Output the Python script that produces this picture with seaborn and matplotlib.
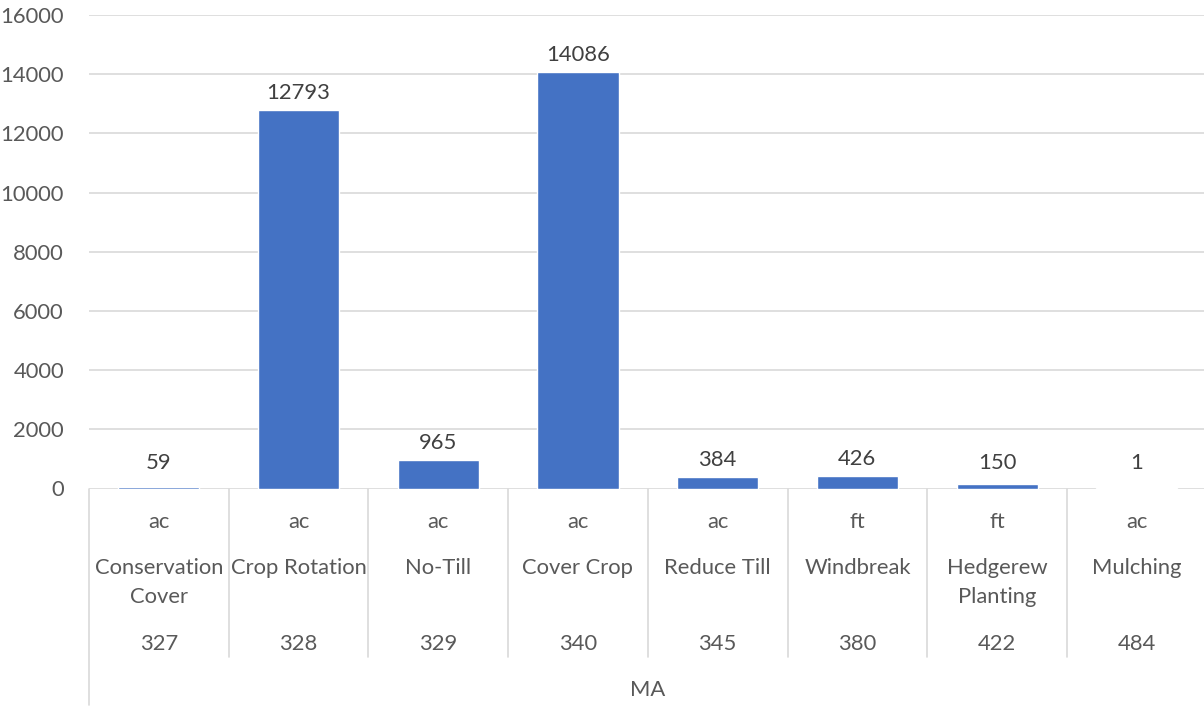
import matplotlib
matplotlib.use("Agg")
import matplotlib.pyplot as plt
import matplotlib.transforms as mtransforms
from matplotlib.lines import Line2D
import seaborn as sns
import pandas as pd

# Conservation practices reported for MA
practice_codes = ["327", "328", "329", "340", "345", "380", "422", "484"]
practice_names = ["Conservation\nCover", "Crop Rotation", "No-Till", "Cover Crop",
                  "Reduce Till", "Windbreak", "Hedgerew\nPlanting", "Mulching"]
units = ["ac", "ac", "ac", "ac", "ac", "ft", "ft", "ac"]
amounts = [59, 12793, 965, 14086, 384, 426, 150, 1]
state = "MA"
y_ticks = [0, 2000, 4000, 6000, 8000, 10000, 12000, 14000, 16000]

sns.set_theme(style="white")
plt.rcParams["font.family"] = ["Lato", "DejaVu Sans"]

W, H = 1204, 712
BAR = "#4472C4"
GRID = "#D9D9D9"
TXT = "#595959"
LBL = "#404040"
FS = 15.8

fig = plt.figure(figsize=(W / 100, H / 100), dpi=100)
fig.patch.set_facecolor("white")
ax_left, ax_right, ax_top, ax_bottom = 89, 1206.7, 15, 488.5
ax = fig.add_axes([ax_left / W, 1 - ax_bottom / H,
                   (ax_right - ax_left) / W, (ax_bottom - ax_top) / H])

df = pd.DataFrame({"code": practice_codes, "amount": amounts})
sns.barplot(data=df, x="code", y="amount", color=BAR, saturation=1,
            width=0.58, ax=ax, zorder=3)

ax.set_xlim(-0.5, len(practice_codes) - 0.5)
ax.set_ylim(y_ticks[0], y_ticks[-1])
ax.set_yticks(y_ticks)
ax.set_yticklabels([str(t) for t in y_ticks], color=TXT, fontsize=FS)
ax.tick_params(axis="y", length=0, pad=18)
ax.set_xticks([])
ax.set_xlabel("")
ax.set_ylabel("")
for s in ax.spines.values():
    s.set_visible(False)
ax.grid(axis="y", color=GRID, linewidth=1.2, zorder=0)
ax.set_axisbelow(True)

# value labels above each bar
for i, v in enumerate(amounts):
    ax.annotate(str(v), (i, max(v, 300)), xytext=(0, 5.0), textcoords="offset points",
                ha="center", va="bottom", color=LBL, fontsize=FS, zorder=4)

# multi-level category axis below the plot
tr = mtransforms.blended_transform_factory(ax.transData, fig.transFigure)


def fy(px):
    return 1 - px / H


for i in range(len(practice_codes)):
    ax.text(i, fy(528), units[i], transform=tr, ha="center", va="baseline",
            color=TXT, fontsize=FS, clip_on=False)
    for k, line in enumerate(practice_names[i].split("\n")):
        ax.text(i, fy(574 + 28.7 * k), line, transform=tr, ha="center",
                va="baseline", color=TXT, fontsize=FS, clip_on=False)
    ax.text(i, fy(650), practice_codes[i], transform=tr, ha="center",
            va="baseline", color=TXT, fontsize=FS, clip_on=False)

ax.text((len(practice_codes) - 1) / 2, fy(696), state, transform=tr,
        ha="center", va="baseline", color=TXT, fontsize=FS, clip_on=False)

for j in range(len(practice_codes) + 1):
    x = j - 0.5
    bottom = 705 if j == 0 else 657
    ax.add_line(Line2D([x, x], [fy(489), fy(bottom)], transform=tr,
                       color=GRID, linewidth=1.2, clip_on=False))

fig.savefig("out.png", dpi=100, facecolor="white")
